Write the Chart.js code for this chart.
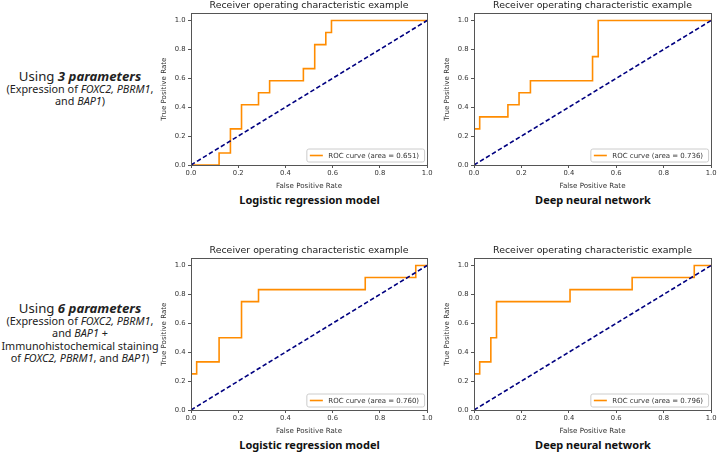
<!DOCTYPE html>
<html>
<head>
<meta charset="utf-8">
<script src="https://cdn.jsdelivr.net/npm/chart.js@4.4.1/dist/chart.umd.min.js"></script>
<style>
  body { margin: 0; width: 718px; height: 453px; background: #fff; position: relative; overflow: hidden; }
  canvas { position: absolute; }
  .lado { position: absolute; left: 0; width: 160px; text-align: center; font-family: "Noto Sans", sans-serif; font-size: 10.8px; color: #222; white-space: nowrap; }
  .lado .l1 { font-size: 13.2px; }
  .legenda { position: absolute; width: 240px; text-align: center; font-family: "Noto Sans", sans-serif; font-weight: bold; font-size: 11px; line-height: 14px; color: #111; }
</style>
</head>
<body>

<div class="lado" style="top:70px; line-height:12px;">
  <div class="l1" style="line-height:13px;">Using <b><i>3 parameters</i></b></div>
  <div>(Expression of <i>FOXC2,</i> <i>PBRM1</i>,</div>
  <div>and <i>BAP1</i>)</div>
</div>

<div class="lado" style="top:302px; line-height:12.3px;">
  <div class="l1" style="line-height:13px;">Using <b><i>6 parameters</i></b></div>
  <div>(Expression of <i>FOXC2,</i> <i>PBRM1</i>,</div>
  <div>and <i>BAP1</i> +</div>
  <div>Immunohistochemical staining</div>
  <div>of <i>FOXC2,</i> <i>PBRM1</i>, and <i>BAP1</i>)</div>
</div>

<canvas id="lr3" width="274" height="192" style="left:160px; top:0px;"></canvas>
<canvas id="dnn3" width="275" height="192" style="left:443px; top:0px;"></canvas>
<canvas id="lr6" width="274" height="192" style="left:160px; top:245px;"></canvas>
<canvas id="dnn6" width="275" height="192" style="left:443px; top:245px;"></canvas>

<div class="legenda" style="left:189.5px; top:193px;">Logistic regression model</div>
<div class="legenda" style="left:473px; top:193px;">Deep neural network</div>
<div class="legenda" style="left:189.5px; top:438px;">Logistic regression model</div>
<div class="legenda" style="left:473px; top:438px;">Deep neural network</div>

<script>
// -------- DADOS --------
const titulo = "Receiver operating characteristic example";
const rotuloX = "False Positive Rate";
const rotuloY = "True Positive Rate";
const ticksEixo = [0, 0.2, 0.4, 0.6, 0.8, 1.0];

// linha de referencia (chance)
const diagX = [0, 1];
const diagY = [0, 1];

// regressao logistica, 3 parametros
const fprLR3 = [0, 0.119, 0.119, 0.167, 0.167, 0.214, 0.214, 0.286, 0.286, 0.333, 0.333, 0.476, 0.476, 0.524, 0.524, 0.571, 0.571, 0.595, 0.595, 1.0];
const tprLR3 = [0, 0, 0.083, 0.083, 0.25, 0.25, 0.417, 0.417, 0.5, 0.5, 0.583, 0.583, 0.667, 0.667, 0.833, 0.833, 0.917, 0.917, 1.0, 1.0];
const areaLR3 = "0.651";

// rede neural, 3 parametros
const fprDNN3 = [0, 0, 0.024, 0.024, 0.143, 0.143, 0.19, 0.19, 0.238, 0.238, 0.5, 0.5, 0.524, 0.524, 1.0];
const tprDNN3 = [0, 0.25, 0.25, 0.333, 0.333, 0.417, 0.417, 0.5, 0.5, 0.583, 0.583, 0.75, 0.75, 1.0, 1.0];
const areaDNN3 = "0.736";

// regressao logistica, 6 parametros
const fprLR6 = [0, 0, 0.024, 0.024, 0.119, 0.119, 0.214, 0.214, 0.286, 0.286, 0.738, 0.738, 0.952, 0.952, 1.0];
const tprLR6 = [0, 0.25, 0.25, 0.333, 0.333, 0.5, 0.5, 0.75, 0.75, 0.833, 0.833, 0.917, 0.917, 1.0, 1.0];
const areaLR6 = "0.760";

// rede neural, 6 parametros
const fprDNN6 = [0, 0, 0.024, 0.024, 0.071, 0.071, 0.095, 0.095, 0.405, 0.405, 0.667, 0.667, 0.929, 0.929, 1.0];
const tprDNN6 = [0, 0.25, 0.25, 0.333, 0.333, 0.5, 0.5, 0.75, 0.75, 0.833, 0.833, 0.917, 0.917, 1.0, 1.0];
const areaDNN6 = "0.796";

// -------- ESTILO --------
const FONTE = "'DejaVu Sans', sans-serif";
const COR_TEXTO = "#333";
const COR_EIXO = "#555";

// moldura (as 4 bordas do grafico, estilo matplotlib)
const moldura = {
  id: "moldura",
  afterDatasetsDraw(chart) {
    const { ctx, chartArea: a } = chart;
    ctx.save();
    ctx.strokeStyle = COR_EIXO;
    ctx.lineWidth = 1;
    ctx.strokeRect(Math.round(a.left) + 0.5, Math.round(a.top) + 0.5,
      Math.round(a.right - a.left), Math.round(a.bottom - a.top));
    ctx.restore();
  }
};

// legenda dentro da area, canto inferior direito
const legendaROC = {
  id: "legendaROC",
  afterDraw(chart) {
    const { ctx, chartArea: a } = chart;
    const ds = chart.data.datasets[1];
    ctx.save();
    ctx.font = "7px " + FONTE;
    const tw = ctx.measureText(ds.label).width;
    const w = tw + 27, h = 13;
    const x = a.right - 2.5 - w, y = a.bottom - 3 - h;
    ctx.fillStyle = "rgba(255,255,255,0.85)";
    ctx.strokeStyle = "#ccc";
    ctx.lineWidth = 1;
    ctx.beginPath();
    ctx.roundRect(x, y, w, h, 2);
    ctx.fill();
    ctx.stroke();
    ctx.strokeStyle = ds.borderColor;
    ctx.lineWidth = ds.borderWidth;
    ctx.beginPath();
    ctx.moveTo(x + 3, y + h / 2);
    ctx.lineTo(x + 16, y + h / 2);
    ctx.stroke();
    ctx.fillStyle = COR_TEXTO;
    ctx.textBaseline = "middle";
    ctx.fillText(ds.label, x + 21.5, y + h / 2 + 0.5);
    ctx.restore();
  }
};

function eixo(min, max, texto, horizontal) {
  return {
    type: "linear",
    min: min,
    max: max,
    afterBuildTicks: (s) => { s.ticks = ticksEixo.map((v) => ({ value: v })); },
    ticks: {
      callback: (v) => Number(v).toFixed(1),
      font: { family: FONTE, size: 6.8 },
      color: COR_TEXTO,
      padding: horizontal ? 1.5 : 2.5,
      maxRotation: 0,
      autoSkip: false
    },
    grid: { drawOnChartArea: false, drawTicks: true, tickLength: 3, color: COR_EIXO },
    border: { display: false },
    title: {
      display: true,
      text: texto,
      font: { family: FONTE, size: 7.1 },
      color: COR_TEXTO,
      padding: { top: 0, bottom: 1.5 }
    },
    afterFit: (s) => {
      if (horizontal) s.height = 27;
      else s.width = 31;
    }
  };
}

function criarGrafico(id, fpr, tpr, area) {
  const pontosROC = fpr.map((x, i) => ({ x: x, y: tpr[i] }));
  const pontosDiag = diagX.map((x, i) => ({ x: x, y: diagY[i] }));

  return new Chart(document.getElementById(id), {
    type: "scatter",
    data: {
      datasets: [
        {
          label: "chance",
          data: pontosDiag,
          showLine: true,
          borderColor: "#000080",
          borderWidth: 1.6,
          borderDash: [4.5, 2.5],
          pointRadius: 0
        },
        {
          label: "ROC curve (area = " + area + ")",
          data: pontosROC,
          showLine: true,
          borderColor: "#ff8c00",
          borderWidth: 1.6,
          pointRadius: 0
        }
      ]
    },
    options: {
      responsive: false,
      animation: false,
      layout: { padding: { left: 0, right: 6, top: 0, bottom: 0 } },
      plugins: {
        legend: { display: false },
        tooltip: { enabled: false },
        title: {
          display: true,
          fullSize: false,
          text: titulo,
          font: { family: FONTE, size: 9.4, weight: "normal" },
          color: "#222",
          padding: { top: 0, bottom: 2 }
        }
      },
      scales: {
        x: eixo(0, 1, rotuloX, true),
        y: eixo(0, 1.05, rotuloY, false)
      }
    },
    plugins: [moldura, legendaROC]
  });
}

// -------- GRAFICOS --------
criarGrafico("lr3", fprLR3, tprLR3, areaLR3);
criarGrafico("dnn3", fprDNN3, tprDNN3, areaDNN3);
criarGrafico("lr6", fprLR6, tprLR6, areaLR6);
criarGrafico("dnn6", fprDNN6, tprDNN6, areaDNN6);
</script>
</body>
</html>
